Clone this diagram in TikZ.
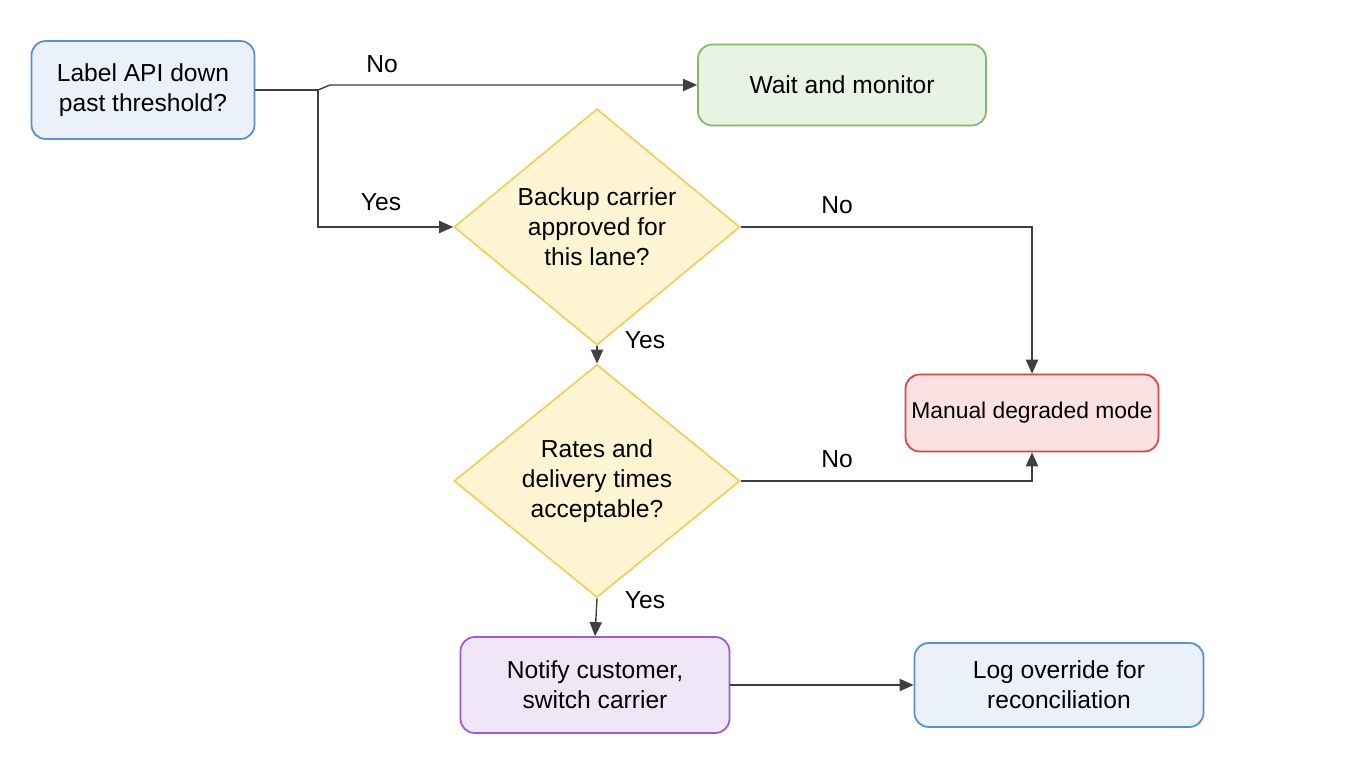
\documentclass[tikz,border=0pt]{standalone}
\usepackage{fontspec}
\setmainfont{Liberation Sans}
\usetikzlibrary{shapes.geometric,arrows.meta}
\definecolor{bluefill}{HTML}{EAF1FB}
\definecolor{blueline}{HTML}{5B8FD0}
\definecolor{greenfill}{HTML}{E9F3E4}
\definecolor{greenline}{HTML}{86B86A}
\definecolor{yellowfill}{HTML}{FFF5D2}
\definecolor{yellowline}{HTML}{F0D060}
\definecolor{redfill}{HTML}{FBE2E2}
\definecolor{redline}{HTML}{D94545}
\definecolor{purplefill}{HTML}{EFE7F8}
\definecolor{purpleline}{HTML}{9C5BD0}
\definecolor{wire}{HTML}{404040}
\tikzset{
  box/.style={rounded corners=8pt, line width=1pt, align=center, font=\fontsize{14}{17}\selectfont},
  ask/.style={diamond, line width=1pt, draw=yellowline, fill=yellowfill, align=center,
    minimum width=5.72cm, minimum height=3.98cm, inner sep=0pt, font=\fontsize{14}{17}\selectfont},
  flow/.style={draw=wire, line width=0.8pt, -{Triangle[length=8pt,width=7pt]}},
  tag/.style={font=\fontsize{14}{17}\selectfont}
}
\begin{document}
\begin{tikzpicture}[x=0.02cm, y=-0.02cm]
	\useasboundingbox (0,0) rectangle (1360,768);
	
	% Boxes
	\node[box, draw=blueline, fill=bluefill, minimum width=4.46cm, minimum height=1.96cm] (api) at (143,90) {Label API down\\past threshold?};
	\node[box, draw=greenline, fill=greenfill, minimum width=5.76cm, minimum height=1.62cm] (wait) at (842,85) {Wait and monitor};
	\node[ask] (backup) at (597,227) {Backup carrier\\approved for\\this lane?};
	\node[ask] (rates) at (597,481) {Rates and\\delivery times\\acceptable?};
	\node[box, draw=redline, fill=redfill, minimum width=4.84cm, minimum height=1.54cm, font=\fontsize{13}{16}\selectfont] (manual) at (1032,413) {Manual degraded mode};
	\node[box, draw=purpleline, fill=purplefill, minimum width=5.38cm, minimum height=1.92cm] (notify) at (595,685) {Notify customer,\\switch carrier};
	\node[box, draw=blueline, fill=bluefill, minimum width=5.78cm, minimum height=1.68cm] (log) at (1059,685) {Log override for\\reconciliation};
	
	% Connectors
	\draw[draw=wire, line width=0.8pt] (api.east) -- (318,90) coordinate (split);
	\draw[flow] (split) -- (330,85) -- (wait.west);
	\draw[flow] (split) |- (backup.west);
	\draw[flow] (backup.east) -| (manual.north);
	\draw[flow] (backup.south) -- (rates.north);
	\draw[flow] (rates.east) -| (manual.south);
	\draw[flow] (rates.south) -- (notify.north);
	\draw[flow] (notify.east) -- (log.west);
	
	% Labels
	\node[tag] (no1) at (382,64) {No};
	\node[tag] (yes1) at (381,202) {Yes};
	\node[tag] (no2) at (837,205) {No};
	\node[tag] (yes2) at (645,340) {Yes};
	\node[tag] (no3) at (837,459) {No};
	\node[tag] (yes3) at (645,600) {Yes};
	
\end{tikzpicture}
\end{document}
